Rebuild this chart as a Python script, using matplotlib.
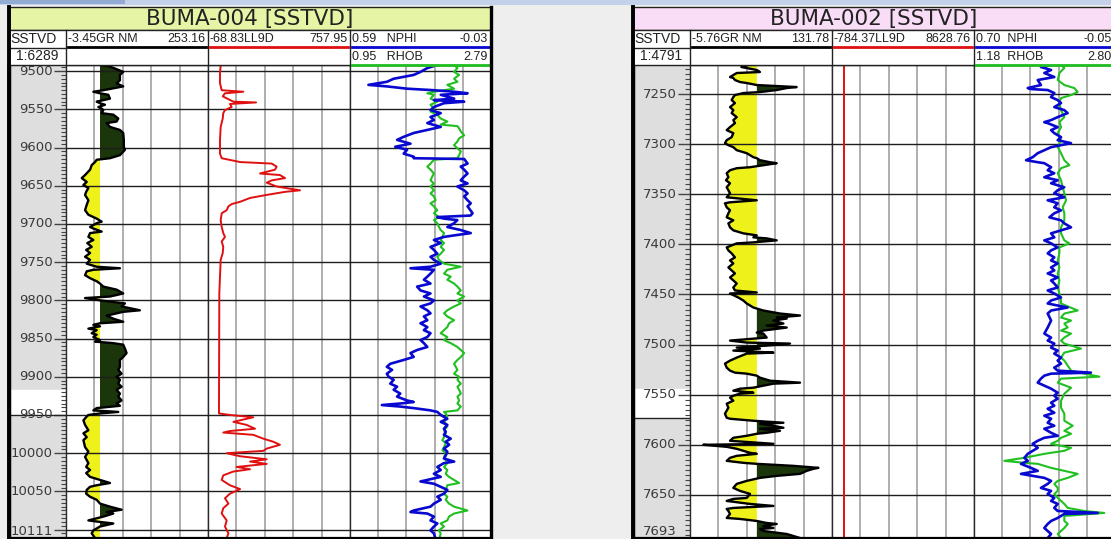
import numpy as np
import matplotlib.pyplot as plt
from matplotlib.patches import Rectangle
from matplotlib.ticker import MultipleLocator
from matplotlib.transforms import blended_transform_factory

W, H = 1111, 539

# ---- BUMA-004 curves, (SSTVD ft, value) ----
gr_004 = [
    (9492, 58), (9494, 76), (9501, 100), (9505, 94), (9512, 94), (9516, 88), (9520, 100),
    (9525, 64), (9527, 46), (9529, 58), (9531, 73), (9536, 76), (9538, 64), (9540, 52),
    (9542, 58), (9544, 67), (9547, 55), (9549, 61), (9551, 64), (9555, 61), (9557, 82),
    (9562, 91), (9566, 88), (9568, 70), (9573, 76), (9577, 94), (9581, 100), (9590, 101),
    (9599, 101), (9603, 103), (9610, 94), (9614, 76), (9616, 52), (9619, 49), (9623, 43),
    (9629, 40), (9636, 31), (9640, 25), (9645, 34), (9649, 28), (9653, 37), (9658, 33),
    (9662, 31), (9669, 37), (9675, 34), (9682, 31), (9688, 37), (9693, 52), (9697, 61),
    (9699, 52), (9704, 40), (9706, 46), (9710, 61), (9712, 40), (9717, 37), (9721, 46),
    (9725, 35), (9730, 43), (9734, 33), (9738, 40), (9743, 31), (9747, 40), (9752, 34),
    (9756, 52), (9758, 94), (9760, 46), (9762, 34), (9767, 31), (9771, 40), (9775, 52),
    (9778, 58), (9782, 64), (9786, 88), (9791, 100), (9795, 76), (9797, 31), (9800, 58),
    (9804, 103), (9808, 97), (9813, 130), (9815, 100), (9820, 70), (9824, 82), (9828, 100),
    (9830, 58), (9832, 46), (9834, 58), (9837, 37), (9839, 52), (9843, 43), (9845, 52),
    (9848, 46), (9850, 52), (9852, 58), (9854, 49), (9856, 82), (9858, 100), (9863, 103),
    (9869, 106), (9874, 100), (9878, 94), (9887, 94), (9891, 91), (9896, 97), (9900, 88),
    (9904, 94), (9909, 91), (9913, 97), (9917, 88), (9922, 94), (9926, 91), (9931, 97),
    (9935, 88), (9938, 94), (9941, 52), (9944, 46), (9946, 91), (9948, 58), (9950, 37),
    (9952, 34), (9957, 28), (9963, 31), (9970, 37), (9974, 28), (9979, 34), (9983, 28),
    (9992, 31), (9998, 37), (10005, 31), (10013, 37), (10018, 33), (10022, 40), (10026, 33),
    (10031, 40), (10035, 58), (10039, 76), (10042, 52), (10044, 40), (10048, 34), (10053, 33),
    (10057, 40), (10061, 52), (10066, 58), (10070, 76), (10074, 97), (10077, 70), (10079, 82),
    (10083, 64), (10088, 37), (10090, 58), (10092, 82), (10096, 58), (10101, 46), (10105, 43),
    (10111, 49),
]

ll9d_004 = [
    (9492, 5), (9503, 1), (9516, 1), (9525, 11), (9527, 137), (9529, 30), (9533, 17),
    (9540, 79), (9541, 211), (9543, 59), (9547, 69), (9551, 30), (9555, 20), (9562, 17),
    (9573, 5), (9590, 1), (9608, 1), (9614, 11), (9619, 118), (9621, 302), (9625, 331),
    (9629, 321), (9634, 234), (9636, 350), (9640, 380), (9643, 302), (9646, 273),
    (9651, 331), (9656, 467), (9658, 380), (9662, 273), (9666, 176), (9671, 118), (9674, 69),
    (9677, 50), (9682, 40), (9686, 11), (9695, 5), (9704, 11), (9712, 20), (9717, 30),
    (9723, 11), (9730, 20), (9738, 17), (9747, 5), (9769, 1), (9791, -3), (9800, -3),
    (9948, -5), (9950, 59), (9953, 195), (9956, 137), (9959, 79), (9963, 156), (9968, 205),
    (9971, 59), (9973, 20), (9976, 195), (9981, 253), (9985, 311), (9989, 350), (9994, 273),
    (9997, 253), (10000, 40), (10004, 118), (10008, 273), (10011, 176), (10014, 273),
    (10018, 98), (10021, 176), (10024, 79), (10029, 20), (10035, 11), (10042, 59),
    (10047, 118), (10053, 59), (10059, 30), (10066, 50), (10072, 20), (10079, 11),
    (10088, 40), (10096, 30), (10105, 50), (10111, 40),
]

nphi_004 = [
    (9492, 0.206), (9496, 0.250), (9501, 0.280), (9505, 0.310), (9510, 0.398), (9514, 0.428),
    (9518, 0.509), (9520, 0.428), (9523, 0.339), (9525, 0.221), (9527, 0.132), (9529, 0.073),
    (9531, 0.191), (9536, 0.132), (9538, 0.221), (9540, 0.088), (9542, 0.177), (9547, 0.221),
    (9551, 0.236), (9555, 0.191), (9560, 0.236), (9564, 0.221), (9568, 0.250), (9573, 0.191),
    (9577, 0.250), (9581, 0.310), (9586, 0.354), (9590, 0.383), (9595, 0.324), (9599, 0.391),
    (9603, 0.339), (9608, 0.354), (9612, 0.310), (9614, 0.310), (9615, 0.088), (9621, 0.073),
    (9625, 0.103), (9629, 0.088), (9634, 0.073), (9638, 0.088), (9643, 0.103), (9647, 0.073),
    (9651, 0.118), (9656, 0.088), (9660, 0.073), (9664, 0.088), (9669, 0.073), (9673, 0.059),
    (9677, 0.073), (9686, 0.051), (9689, 0.060), (9691, 0.206), (9693, 0.177), (9695, 0.118),
    (9699, 0.132), (9704, 0.162), (9708, 0.103), (9712, 0.059), (9715, 0.132), (9717, 0.177),
    (9721, 0.221), (9725, 0.191), (9730, 0.236), (9734, 0.221), (9739, 0.206), (9743, 0.236),
    (9747, 0.221), (9752, 0.191), (9756, 0.236), (9758, 0.324), (9760, 0.221), (9765, 0.236),
    (9769, 0.250), (9773, 0.265), (9778, 0.236), (9782, 0.295), (9787, 0.280), (9791, 0.236),
    (9795, 0.265), (9800, 0.221), (9804, 0.236), (9808, 0.280), (9813, 0.250), (9817, 0.236),
    (9821, 0.265), (9826, 0.250), (9830, 0.280), (9835, 0.250), (9839, 0.265), (9843, 0.236),
    (9848, 0.250), (9852, 0.280), (9856, 0.265), (9861, 0.250), (9865, 0.295), (9869, 0.324),
    (9874, 0.310), (9878, 0.354), (9883, 0.413), (9887, 0.428), (9891, 0.405), (9896, 0.428),
    (9900, 0.420), (9904, 0.398), (9909, 0.413), (9913, 0.383), (9917, 0.398), (9922, 0.369),
    (9926, 0.383), (9931, 0.339), (9933, 0.310), (9935, 0.369), (9937, 0.450), (9939, 0.369),
    (9941, 0.310), (9944, 0.236), (9946, 0.206), (9950, 0.191), (9955, 0.162), (9959, 0.191),
    (9963, 0.162), (9968, 0.177), (9972, 0.169), (9976, 0.177), (9981, 0.147), (9985, 0.169),
    (9989, 0.154), (9994, 0.177), (9998, 0.162), (10003, 0.169), (10007, 0.177), (10011, 0.132),
    (10013, 0.177), (10018, 0.206), (10022, 0.191), (10027, 0.221), (10031, 0.191),
    (10035, 0.250), (10037, 0.280), (10040, 0.221), (10044, 0.191), (10048, 0.162),
    (10053, 0.177), (10057, 0.206), (10061, 0.191), (10066, 0.221), (10070, 0.236),
    (10075, 0.310), (10077, 0.324), (10079, 0.250), (10083, 0.221), (10088, 0.236),
    (10092, 0.206), (10096, 0.221), (10101, 0.236), (10105, 0.221), (10111, 0.215),
]

rhob_004 = [
    (9492, 2.308), (9496, 2.352), (9501, 2.308), (9505, 2.374), (9510, 2.308), (9514, 2.352),
    (9518, 2.220), (9523, 2.308), (9527, 2.045), (9529, 1.958), (9531, 2.045), (9536, 2.001),
    (9540, 2.089), (9544, 2.001), (9549, 2.045), (9553, 2.001), (9557, 2.089), (9562, 2.133),
    (9566, 2.220), (9570, 2.133), (9572, 2.352), (9575, 2.374), (9579, 2.396), (9584, 2.440),
    (9588, 2.374), (9592, 2.352), (9597, 2.308), (9601, 2.352), (9605, 2.396), (9610, 2.374),
    (9614, 2.352), (9616, 2.045), (9621, 2.001), (9625, 1.958), (9629, 2.001), (9634, 2.045),
    (9638, 2.023), (9643, 2.001), (9647, 2.045), (9651, 2.001), (9656, 2.045), (9660, 2.001),
    (9664, 2.045), (9669, 2.067), (9673, 2.001), (9677, 2.045), (9682, 2.089), (9686, 2.045),
    (9691, 2.111), (9695, 2.045), (9699, 2.089), (9704, 2.111), (9708, 2.133), (9712, 2.177),
    (9717, 2.155), (9721, 2.133), (9725, 2.177), (9730, 2.133), (9734, 2.177), (9739, 2.133),
    (9743, 2.089), (9747, 2.111), (9752, 2.177), (9756, 2.396), (9760, 2.220), (9765, 2.177),
    (9769, 2.264), (9773, 2.220), (9778, 2.308), (9782, 2.352), (9787, 2.396), (9791, 2.352),
    (9795, 2.440), (9800, 2.352), (9804, 2.396), (9808, 2.308), (9813, 2.220), (9817, 2.177),
    (9821, 2.220), (9826, 2.308), (9830, 2.242), (9835, 2.220), (9839, 2.177), (9843, 2.133),
    (9848, 2.220), (9852, 2.177), (9856, 2.264), (9861, 2.352), (9865, 2.396), (9869, 2.440),
    (9874, 2.396), (9878, 2.352), (9883, 2.308), (9887, 2.330), (9891, 2.352), (9896, 2.308),
    (9900, 2.374), (9904, 2.352), (9909, 2.396), (9913, 2.352), (9917, 2.374), (9922, 2.396),
    (9926, 2.352), (9931, 2.374), (9935, 2.352), (9939, 2.396), (9944, 2.352), (9946, 2.177),
    (9948, 2.199), (9952, 2.220), (9957, 2.177), (9961, 2.199), (9965, 2.220), (9970, 2.177),
    (9974, 2.199), (9979, 2.177), (9983, 2.155), (9987, 2.199), (9992, 2.177), (9996, 2.155),
    (10000, 2.199), (10005, 2.177), (10009, 2.199), (10013, 2.220), (10018, 2.177),
    (10022, 2.220), (10027, 2.199), (10031, 2.242), (10035, 2.308), (10039, 2.374),
    (10042, 2.220), (10048, 2.199), (10053, 2.177), (10057, 2.220), (10061, 2.199),
    (10066, 2.242), (10070, 2.308), (10075, 2.483), (10079, 2.308), (10083, 2.242),
    (10088, 2.220), (10092, 2.133), (10096, 2.177), (10101, 2.111), (10105, 2.133),
    (10111, 2.120),
]

# ---- BUMA-002 curves ----
gr_002 = [
    (7221, 50.8), (7223, 44.0), (7226, 58.9), (7228, 62.0), (7229, 39.5), (7233, 33.0),
    (7234, 36.2), (7236, 37.8), (7238, 42.7), (7239, 49.2), (7241, 58.9), (7243, 97.5),
    (7244, 87.9), (7246, 78.2), (7248, 62.0), (7249, 45.9), (7251, 37.8), (7253, 36.2),
    (7256, 34.6), (7259, 37.8), (7263, 33.0), (7266, 36.2), (7269, 34.6), (7273, 39.5),
    (7276, 36.2), (7279, 37.8), (7283, 33.0), (7286, 29.8), (7289, 36.2), (7293, 34.6),
    (7296, 29.8), (7299, 28.1), (7301, 31.4), (7303, 36.2), (7306, 39.5), (7309, 49.2),
    (7313, 55.6), (7314, 58.9), (7316, 62.0), (7318, 71.7), (7319, 78.2), (7321, 65.3),
    (7323, 52.4), (7324, 39.5), (7326, 33.0), (7329, 29.8), (7333, 31.4), (7336, 29.1),
    (7339, 33.0), (7343, 29.8), (7346, 31.4), (7349, 33.0), (7353, 29.8), (7356, 58.9),
    (7358, 33.0), (7359, 28.1), (7363, 29.8), (7366, 33.0), (7369, 31.4), (7373, 29.8),
    (7376, 36.2), (7379, 31.4), (7383, 33.0), (7386, 36.2), (7389, 45.9), (7391, 58.9),
    (7393, 55.6), (7394, 68.5), (7396, 78.2), (7398, 55.6), (7399, 39.5), (7403, 29.8),
    (7406, 31.4), (7409, 34.6), (7413, 37.8), (7416, 33.0), (7419, 36.2), (7423, 31.4),
    (7426, 34.6), (7429, 37.8), (7433, 33.0), (7436, 36.2), (7439, 39.5), (7443, 36.2),
    (7446, 37.8), (7448, 58.9), (7449, 33.0), (7453, 41.0), (7456, 45.9), (7459, 49.2),
    (7463, 55.6), (7466, 65.3), (7469, 81.4), (7471, 100.8), (7473, 78.2), (7474, 87.9),
    (7476, 75.0), (7479, 84.7), (7481, 68.5), (7483, 87.9), (7486, 65.3), (7488, 58.9),
    (7489, 65.3), (7493, 68.5), (7496, 33.0), (7498, 49.2), (7499, 91.1), (7501, 68.5),
    (7503, 39.5), (7504, 62.0), (7506, 36.2), (7508, 75.0), (7509, 49.2), (7513, 39.5),
    (7516, 33.0), (7519, 28.1), (7523, 29.8), (7526, 33.0), (7528, 37.8), (7529, 49.2),
    (7531, 58.9), (7533, 62.0), (7536, 71.7), (7538, 100.8), (7539, 75.0), (7541, 65.3),
    (7543, 55.6), (7544, 42.7), (7546, 36.2), (7548, 55.6), (7549, 42.7), (7551, 36.2),
    (7553, 33.0), (7556, 36.2), (7559, 29.8), (7563, 31.4), (7566, 29.8), (7569, 28.1),
    (7573, 29.8), (7574, 33.0), (7576, 55.6), (7578, 84.7), (7579, 62.0), (7581, 75.0),
    (7583, 84.7), (7584, 62.0), (7586, 81.4), (7588, 68.5), (7589, 58.9), (7591, 49.2),
    (7593, 36.2), (7596, 33.0), (7599, 75.0), (7600, 7.1), (7602, 29.8), (7604, 39.5),
    (7606, 45.9), (7608, 52.4), (7609, 58.9), (7611, 39.5), (7613, 33.0), (7616, 29.8),
    (7618, 45.9), (7619, 58.9), (7621, 94.3), (7623, 118.6), (7624, 113.7), (7626, 107.3),
    (7629, 100.8), (7631, 78.2), (7633, 62.0), (7636, 49.2), (7639, 39.5), (7643, 36.2),
    (7646, 42.7), (7649, 52.4), (7653, 49.2), (7654, 36.2), (7656, 29.8), (7659, 52.4),
    (7661, 75.0), (7663, 36.2), (7664, 29.8), (7666, 31.4), (7669, 33.0), (7673, 29.8),
    (7674, 42.7), (7676, 58.9), (7678, 68.5), (7679, 78.2), (7681, 65.3), (7683, 75.0),
    (7684, 62.0), (7686, 65.3), (7689, 87.9), (7693, 100.8),
]

ll9d_002 = [(7221, 0.0), (7693, 0.0)]

nphi_002 = [
    (7221, 0.290), (7223, 0.344), (7226, 0.290), (7229, 0.326), (7233, 0.273), (7236, 0.361),
    (7241, 0.344), (7244, 0.414), (7245, 0.397), (7246, 0.308), (7249, 0.273), (7253, 0.290),
    (7256, 0.255), (7259, 0.237), (7263, 0.273), (7266, 0.220), (7269, 0.202), (7273, 0.255),
    (7276, 0.290), (7278, 0.326), (7279, 0.308), (7283, 0.255), (7286, 0.290), (7289, 0.273),
    (7293, 0.237), (7296, 0.255), (7299, 0.184), (7303, 0.290), (7306, 0.326), (7309, 0.361),
    (7313, 0.388), (7316, 0.423), (7318, 0.361), (7319, 0.326), (7323, 0.290), (7326, 0.308),
    (7329, 0.273), (7333, 0.326), (7336, 0.255), (7339, 0.290), (7343, 0.220), (7346, 0.255),
    (7349, 0.273), (7353, 0.220), (7356, 0.308), (7359, 0.255), (7363, 0.273), (7366, 0.237),
    (7369, 0.273), (7373, 0.299), (7376, 0.237), (7379, 0.220), (7383, 0.184), (7386, 0.237),
    (7389, 0.290), (7393, 0.273), (7396, 0.326), (7399, 0.290), (7403, 0.255), (7406, 0.290),
    (7409, 0.308), (7413, 0.273), (7416, 0.290), (7419, 0.255), (7423, 0.290), (7426, 0.273),
    (7429, 0.308), (7433, 0.255), (7436, 0.290), (7439, 0.273), (7443, 0.255), (7446, 0.308),
    (7449, 0.273), (7453, 0.237), (7456, 0.290), (7459, 0.308), (7463, 0.202), (7466, 0.290),
    (7469, 0.308), (7476, 0.290), (7483, 0.308), (7489, 0.326), (7493, 0.290), (7496, 0.308),
    (7499, 0.273), (7503, 0.290), (7506, 0.255), (7509, 0.273), (7513, 0.237), (7516, 0.255),
    (7519, 0.237), (7523, 0.273), (7526, 0.255), (7528, 0.078), (7529, 0.290), (7531, 0.326),
    (7534, 0.344), (7538, 0.361), (7541, 0.326), (7544, 0.290), (7548, 0.255), (7551, 0.273),
    (7554, 0.255), (7558, 0.290), (7561, 0.273), (7564, 0.308), (7568, 0.273), (7571, 0.326),
    (7574, 0.290), (7578, 0.308), (7581, 0.273), (7584, 0.326), (7588, 0.290), (7591, 0.255),
    (7593, 0.326), (7596, 0.361), (7599, 0.388), (7603, 0.361), (7606, 0.388), (7609, 0.414),
    (7613, 0.432), (7616, 0.414), (7619, 0.450), (7623, 0.397), (7626, 0.361), (7629, 0.450),
    (7633, 0.326), (7636, 0.290), (7639, 0.308), (7643, 0.344), (7646, 0.290), (7649, 0.308),
    (7653, 0.273), (7656, 0.290), (7659, 0.255), (7663, 0.273), (7666, 0.255), (7668, 0.042),
    (7669, 0.220), (7673, 0.255), (7676, 0.290), (7679, 0.308), (7683, 0.326), (7686, 0.308),
    (7689, 0.290), (7693, 0.308),
]

rhob_002 = [
    (7221, 2.180), (7224, 2.218), (7229, 2.161), (7236, 2.142), (7241, 2.218), (7244, 2.332),
    (7248, 2.371), (7251, 2.295), (7254, 2.180), (7259, 2.161), (7266, 2.180), (7273, 2.218),
    (7278, 2.161), (7283, 2.180), (7289, 2.142), (7296, 2.180), (7303, 2.142), (7309, 2.180),
    (7316, 2.218), (7321, 2.276), (7324, 2.180), (7329, 2.142), (7336, 2.180), (7343, 2.199),
    (7349, 2.218), (7356, 2.238), (7363, 2.199), (7369, 2.218), (7376, 2.218), (7383, 2.180),
    (7389, 2.180), (7396, 2.218), (7399, 2.276), (7403, 2.161), (7409, 2.161), (7416, 2.142),
    (7423, 2.161), (7429, 2.142), (7436, 2.161), (7443, 2.142), (7449, 2.161), (7456, 2.180),
    (7459, 2.180), (7466, 2.371), (7469, 2.218), (7473, 2.180), (7476, 2.295), (7479, 2.218),
    (7483, 2.257), (7486, 2.180), (7489, 2.295), (7493, 2.218), (7496, 2.180), (7499, 2.218),
    (7504, 2.409), (7508, 2.218), (7513, 2.180), (7516, 2.218), (7521, 2.257), (7526, 2.295),
    (7529, 2.447), (7532, 2.620), (7534, 2.180), (7538, 2.142), (7543, 2.295), (7546, 2.257),
    (7549, 2.218), (7556, 2.180), (7563, 2.180), (7569, 2.218), (7576, 2.218), (7581, 2.314),
    (7586, 2.218), (7589, 2.295), (7593, 2.180), (7596, 2.142), (7599, 2.065), (7603, 2.295),
    (7606, 2.218), (7609, 1.988), (7613, 1.758), (7616, 1.528), (7618, 1.758), (7619, 1.912),
    (7623, 2.065), (7626, 2.218), (7629, 2.371), (7633, 2.257), (7636, 2.142), (7639, 2.103),
    (7643, 2.142), (7646, 2.142), (7649, 2.103), (7653, 2.142), (7656, 2.180), (7659, 2.218),
    (7663, 2.257), (7666, 2.447), (7668, 2.677), (7671, 2.218), (7676, 2.218), (7679, 2.257),
    (7683, 2.218), (7686, 2.180), (7689, 2.142), (7693, 2.180),
]

# header scales (left, right) and shale cut-offs
scales_004 = dict(gr=(-3.45, 253.16), ll9d=(-68.83, 757.95), nphi=(0.59, -0.03), rhob=(0.95, 2.79))
scales_002 = dict(gr=(-5.76, 131.78), ll9d=(-784.37, 8628.76), nphi=(0.70, -0.05), rhob=(1.18, 2.80))
cutoff_004, cutoff_002 = 58, 59
range_004, range_002 = (9492, 10111), (7221, 7693)

SAND, SHALE = '#eef21a', '#1b360b'
C_GR, C_LL, C_NPHI, C_RHOB = '#000000', '#e01010', '#0808d0', '#20c020'

fig = plt.figure(figsize=(W / 100, H / 100), dpi=100, facecolor='#eeeeee')

Y_TITLE, Y_HDR, Y_DATA, Y_BOT = 7, 30, 65, 538
WIDTHS = [57, 142, 142, 141]


def px_axes(x0, y0, x1, y1, **kw):
    return fig.add_axes([x0 / W, 1 - y1 / H, (x1 - x0) / W, (y1 - y0) / H], **kw)


def curve(pairs):
    a = np.array(pairs, dtype=float)
    return a[:, 0], a[:, 1]


def track(xa, xb, lim, drange, grid):
    ax = px_axes(xa, Y_DATA, xb, Y_BOT)
    ax.set_xlim(*lim)
    ax.set_ylim(drange[1], drange[0])
    ax.set_xticks([])
    ax.set_yticks([])
    for k in range(1, 5):
        ax.axvline(lim[0] + (lim[1] - lim[0]) * k / 5, color='#a8a8a8', lw=1.3, zorder=1)
    for d in grid:
        ax.axhline(d, color='#1e1e1e', lw=1.0, zorder=3)
    for s in ax.spines.values():
        s.set_color('#2a2a2a')
        s.set_linewidth(1.0)
    return ax


def draw_well(ov, x0, title, title_bg, scale_txt, drange, band, sc, cut,
              gr, ll, nphi, rhob, names):
    ex = np.cumsum([x0] + WIDTHS)
    grid = np.arange(np.ceil(drange[0] / 50) * 50, drange[1], 50)

    # depth column
    axd = px_axes(ex[0], Y_DATA, ex[1], Y_BOT)
    axd.set_facecolor('#dedede')
    axd.set_xlim(0, 1)
    axd.set_ylim(drange[1], drange[0])
    axd.axhspan(band[0], band[1], color='white', zorder=0.5)
    axd.axhline(band[1], color='#222222', lw=1.0)
    axd.set_xticks([])
    axd.yaxis.set_major_locator(MultipleLocator(50))
    axd.yaxis.set_minor_locator(MultipleLocator(5))
    axd.tick_params(axis='y', which='both', direction='in', left=False, right=True,
                    labelleft=False, labelright=False, colors='#444444')
    axd.tick_params(axis='y', which='major', length=9, width=1.0)
    axd.tick_params(axis='y', which='minor', length=3.5, width=0.8)
    for s in axd.spines.values():
        s.set_color('#2a2a2a')
    axd.spines['left'].set_linewidth(2.5)
    axd.spines['left'].set_color('black')
    tr = blended_transform_factory(axd.transAxes, axd.transData)
    lab = dict(transform=tr, ha='right', fontsize=9.5, color='#3a3a3a')
    for d in grid:
        if d <= drange[1] - 20:
            axd.text(0.77, d, f'{int(d)}', va='center', **lab)
    axd.text(0.77, drange[1], f'{drange[1]}', va='bottom', **lab)

    # gamma ray with sand / shale shading
    d, v = curve(gr)
    ax1 = track(ex[1], ex[2], sc['gr'], drange, grid)
    ax1.fill_betweenx(d, v, cut, where=v <= cut, interpolate=True, color=SAND, lw=0, zorder=2)
    ax1.fill_betweenx(d, v, cut, where=v >= cut, interpolate=True, color=SHALE, lw=0, zorder=2)
    ax1.plot(v, d, color=C_GR, lw=1.7, zorder=4)

    # resistivity
    d, v = curve(ll)
    ax2 = track(ex[2], ex[3], sc['ll9d'], drange, grid)
    ax2.plot(v, d, color=C_LL, lw=1.4, zorder=4)

    # density / neutron
    ax3 = track(ex[3], ex[4], sc['rhob'], drange, grid)
    d, v = curve(rhob)
    ax3.plot(v, d, color=C_RHOB, lw=1.5, zorder=4)
    ax3n = ax3.twiny()
    ax3n.set_xlim(*sc['nphi'])
    ax3n.axis('off')
    d, v = curve(nphi)
    ax3n.plot(v, d, color=C_NPHI, lw=1.9, zorder=5)

    # title box and header cells
    ov.add_patch(Rectangle((ex[0], Y_TITLE), ex[4] - ex[0], Y_HDR - Y_TITLE,
                           fc=title_bg, ec='#222222', lw=1.0))
    ov.text((ex[0] + ex[4]) / 2, (Y_TITLE + Y_HDR) / 2 + 0.5, title, ha='center', va='center',
            fontsize=15.5, color='#222222')
    ov.add_patch(Rectangle((ex[0], Y_HDR), ex[4] - ex[0], Y_DATA - Y_HDR,
                           fc='white', ec='#222222', lw=1.0))
    for xe in ex[1:4]:
        ov.plot([xe, xe], [Y_HDR, Y_DATA], color='#222222', lw=1.0)
    ov.plot([ex[0], ex[1]], [48, 48], color='#222222', lw=1.0)
    hf = dict(color='#222222', va='center', family='Liberation Sans')
    ov.text(ex[0] + 1, 39, 'SSTVD', ha='left', fontsize=10, **hf)
    ov.text((ex[0] + ex[1]) / 2, 56.5, scale_txt, ha='center', fontsize=10, **hf)
    rows = [(1, 39, 'gr', C_GR), (2, 39, 'll9d', C_LL),
            (3, 39, 'nphi', C_NPHI), (3, 56.5, 'rhob', C_RHOB)]
    for (i, yt, key, col), name in zip(rows, names):
        lo, hi = sc[key]
        ov.text(ex[i] + 2, yt, f'{lo:.2f}{name}', ha='left', fontsize=9, **hf)
        ov.text(ex[i + 1] - 3, yt, f'{hi:.2f}', ha='right', fontsize=9, **hf)
        ov.plot([ex[i] + 2, ex[i + 1] - 2], [yt + 8, yt + 8], color=col, lw=2.0)
    # heavy outer frame
    ov.plot([ex[0], ex[0]], [Y_TITLE, Y_BOT], color='black', lw=2.8)
    ov.plot([ex[4], ex[4]], [Y_TITLE, Y_BOT], color='black', lw=2.4)
    ov.plot([ex[0], ex[4]], [Y_BOT - 0.5, Y_BOT - 0.5], color='black', lw=1.6)


ov = fig.add_axes([0, 0, 1, 1], zorder=10)
ov.set_xlim(0, W)
ov.set_ylim(H, 0)
ov.axis('off')

# window caption strip
ov.add_patch(Rectangle((0, 0), W, 5, fc='#c3d1ea', lw=0))
ov.add_patch(Rectangle((0, 0), 125, 4, fc='#93abd3', lw=0))

draw_well(ov, 9, 'BUMA-004 [SSTVD]', '#e6f4a6', '1:6289', range_004, (9917, 9950),
          scales_004, cutoff_004, gr_004, ll9d_004, nphi_004, rhob_004,
          names=('GR NM', 'LL9D', '   NPHI', '   RHOB'))
draw_well(ov, 633, 'BUMA-002 [SSTVD]', '#f9ddf6', '1:4791', range_002, (7544, 7573),
          scales_002, cutoff_002, gr_002, ll9d_002, nphi_002, rhob_002,
          names=('GR NM', 'LL9D', '  NPHI', '  RHOB'))

fig.savefig('out.png', dpi=100, facecolor=fig.get_facecolor())
